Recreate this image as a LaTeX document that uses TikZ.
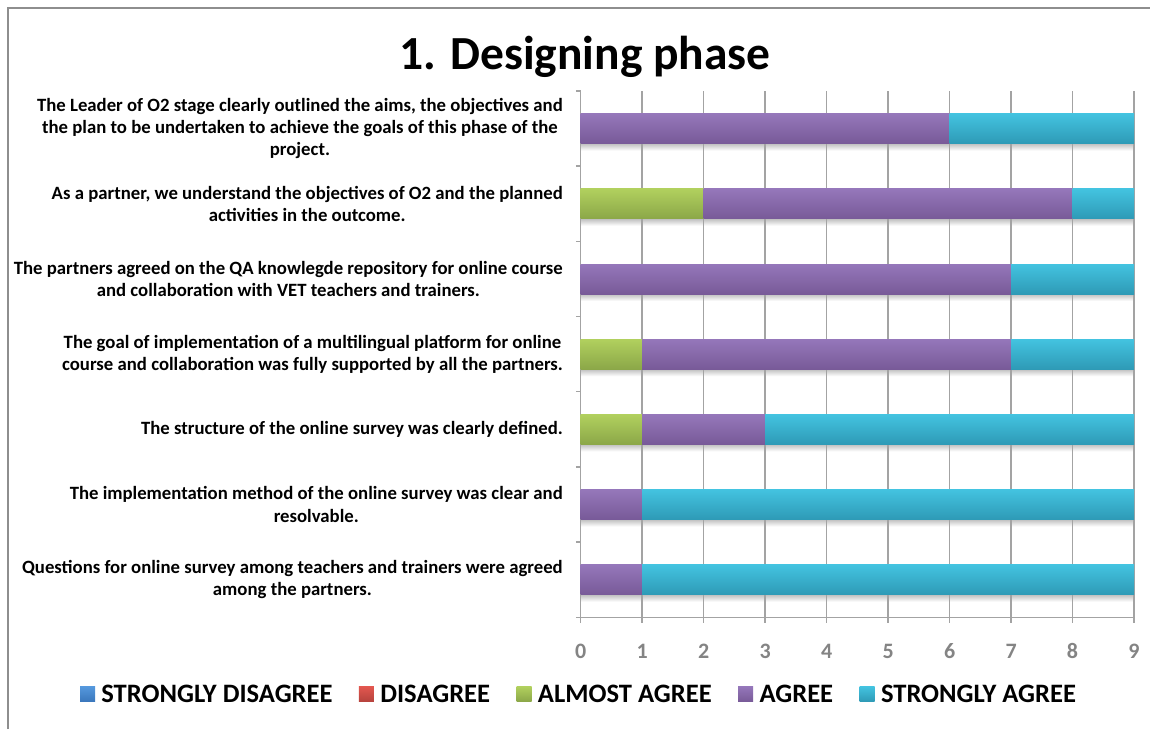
\documentclass[tikz,border=0pt]{standalone}
\usepackage{fontspec}
\setmainfont{Carlito}
\usetikzlibrary{positioning}
\definecolor{gridgray}{HTML}{A3A3A3}
\definecolor{framegray}{HTML}{8E8E8E}
\definecolor{numgray}{HTML}{848484}
\definecolor{agreetop}{HTML}{9577BA}
\definecolor{agreebot}{HTML}{785A98}
\definecolor{strongtop}{HTML}{43C3E0}
\definecolor{strongbot}{HTML}{2E9AB6}
\definecolor{almosttop}{HTML}{B1D05E}
\definecolor{almostbot}{HTML}{8BA748}
\definecolor{sdistop}{HTML}{5598DD}
\definecolor{sdisbot}{HTML}{3A77BC}
\definecolor{distop}{HTML}{E2574F}
\definecolor{disbot}{HTML}{B6433D}
\tikzset{
  gridline/.style={draw=gridgray, line width=1.5pt},
  qtext/.style={anchor=east, align=center, inner sep=0pt,
    font=\bfseries\fontsize{18.75}{22.3}\selectfont},
  numlabel/.style={text=numgray, inner sep=0pt,
    font=\bfseries\fontsize{22}{26}\selectfont},
  keybox/.style={minimum size=15pt, inner sep=0pt},
  keytext/.style={right=6pt of #1, inner sep=0pt,
    font=\bfseries\fontsize{26.6}{31}\selectfont},
  almost/.style={top color=almosttop, bottom color=almostbot},
  agree/.style={top color=agreetop, bottom color=agreebot},
  strong/.style={top color=strongtop, bottom color=strongbot},
  barshadow/.style={top color=black!25, bottom color=white}
}
\begin{document}
\begin{tikzpicture}[x=1pt, y=-1pt]
  \useasboundingbox (0,0) rectangle (1150,729);
  \draw[framegray, line width=1.5pt] (8,729) -- (8,8) -- (1150,8);
  \draw (585,57) node[font=\bfseries\fontsize{47.5}{56}\selectfont] (title){1. Designing phase};
  \draw
    (563,128.6) node[qtext] (q1){The Leader of O2 stage clearly outlined the aims, the objectives and\\the plan to be undertaken to achieve the goals of this phase of the\\project.}
    (563,203.8) node[qtext] (q2){As a partner, we understand the objectives of O2 and the planned\\activities in the outcome.}
    (563,279.0) node[qtext] (q3){The partners agreed on the QA knowlegde repository for online course\\and collaboration with VET teachers and trainers.}
    (563,354.2) node[qtext] (q4){The goal of implementation of a multilingual platform for online\\course and collaboration was fully supported by all the partners.}
    (563,429.4) node[qtext] (q5){The structure of the online survey was clearly defined.}
    (563,504.5) node[qtext] (q6){The implementation method of the online survey was clear and\\resolvable.}
    (563,579.7) node[qtext] (q7){Questions for online survey among teachers and trainers were agreed\\among the partners.};
  \begin{scope}[shift={(580.7,0)}, x=61.48pt]
    \shade[barshadow] (0,143.6) rectangle (9,150.6);
    \shade[barshadow] (0,218.8) rectangle (9,225.8);
    \shade[barshadow] (0,294.0) rectangle (9,301.0);
    \shade[barshadow] (0,369.2) rectangle (9,376.2);
    \shade[barshadow] (0,444.4) rectangle (9,451.4);
    \shade[barshadow] (0,519.5) rectangle (9,526.5);
    \shade[barshadow] (0,594.7) rectangle (9,601.7);
    \draw[gridline] (1,91) -- (1,623);
    \draw[gridline] (2,91) -- (2,623);
    \draw[gridline] (3,91) -- (3,623);
    \draw[gridline] (4,91) -- (4,623);
    \draw[gridline] (5,91) -- (5,623);
    \draw[gridline] (6,91) -- (6,623);
    \draw[gridline] (7,91) -- (7,623);
    \draw[gridline] (8,91) -- (8,623);
    \draw[gridline] (9,91) -- (9,623);
    \draw[gridline] (0,623) -- (0,91);
    \draw[gridline] (-0.08,617.3) -- (9,617.3);
    \draw[gridline] (-0.08,91) -- (0,91);
    \draw[gridline] (-0.08,166.2) -- (0,166.2);
    \draw[gridline] (-0.08,241.4) -- (0,241.4);
    \draw[gridline] (-0.08,316.6) -- (0,316.6);
    \draw[gridline] (-0.08,391.7) -- (0,391.7);
    \draw[gridline] (-0.08,466.9) -- (0,466.9);
    \draw[gridline] (-0.08,542.1) -- (0,542.1);
    \shade[agree] (0,113.6) rectangle (6,143.6);
    \shade[strong] (6,113.6) rectangle (9,143.6);
    \shade[almost] (0,188.8) rectangle (2,218.8);
    \shade[agree] (2,188.8) rectangle (8,218.8);
    \shade[strong] (8,188.8) rectangle (9,218.8);
    \shade[agree] (0,264.0) rectangle (7,294.0);
    \shade[strong] (7,264.0) rectangle (9,294.0);
    \shade[almost] (0,339.2) rectangle (1,369.2);
    \shade[agree] (1,339.2) rectangle (7,369.2);
    \shade[strong] (7,339.2) rectangle (9,369.2);
    \shade[almost] (0,414.4) rectangle (1,444.4);
    \shade[agree] (1,414.4) rectangle (3,444.4);
    \shade[strong] (3,414.4) rectangle (9,444.4);
    \shade[agree] (0,489.5) rectangle (1,519.5);
    \shade[strong] (1,489.5) rectangle (9,519.5);
    \shade[agree] (0,564.7) rectangle (1,594.7);
    \shade[strong] (1,564.7) rectangle (9,594.7);
    \draw
      (0,651) node[numlabel] (n0){0}
      (1,651) node[numlabel] (n1){1}
      (2,651) node[numlabel] (n2){2}
      (3,651) node[numlabel] (n3){3}
      (4,651) node[numlabel] (n4){4}
      (5,651) node[numlabel] (n5){5}
      (6,651) node[numlabel] (n6){6}
      (7,651) node[numlabel] (n7){7}
      (8,651) node[numlabel] (n8){8}
      (9,651) node[numlabel] (n9){9};
  \end{scope}
  \node[keybox, top color=sdistop, bottom color=sdisbot] (k1) at (87.5,694) {};
  \node[keytext=k1] (l1) {STRONGLY DISAGREE};
  \node[keybox, top color=distop, bottom color=disbot, right=26pt of l1] (k2) {};
  \node[keytext=k2] (l2) {DISAGREE};
  \node[keybox, almost, right=26pt of l2] (k3) {};
  \node[keytext=k3] (l3) {ALMOST AGREE};
  \node[keybox, agree, right=26pt of l3] (k4) {};
  \node[keytext=k4] (l4) {AGREE};
  \node[keybox, strong, right=26pt of l4] (k5) {};
  \node[keytext=k5] (l5) {STRONGLY AGREE};
\end{tikzpicture}
\end{document}
